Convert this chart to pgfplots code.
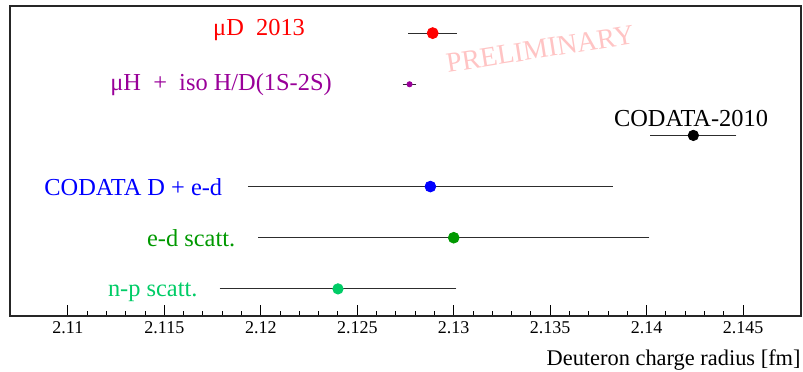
\documentclass[border=0pt]{standalone}
\usepackage{pgfplots}
\pgfplotsset{compat=1.18}
\usepackage{fontspec}
\setmainfont{Liberation Serif}
\definecolor{cRed}{RGB}{255,0,0}
\definecolor{cPurple}{RGB}{153,0,153}
\definecolor{cBlue}{RGB}{0,0,255}
\definecolor{cGreen}{RGB}{0,153,0}
\definecolor{cSpring}{RGB}{0,204,102}
\definecolor{cPink}{RGB}{255,196,196}
\definecolor{cBar}{RGB}{45,45,45}
\begin{document}
\begin{tikzpicture}
\begin{axis}[
  scale only axis, width=395.5pt, height=155pt,
  xmin=2.107, xmax=2.148, ymin=0.47, ymax=6.53,
  axis line style={line width=0.65pt, black!85},
  xtick={2.11,2.115,2.12,2.125,2.13,2.135,2.14,2.145},
  minor x tick num=4,
  xtick pos=bottom, ytick=\empty,
  tick align=inside,
  major tick length=5.5pt, minor tick length=2.5pt,
  tick style={line width=0.5pt, black},
  /pgf/number format/assume math mode=true,
  /pgf/number format/.cd, fixed, precision=3, /pgfplots/.cd,
  xticklabel style={font=\fontsize{9}{10}\selectfont, anchor=base, yshift=-9pt},
  xlabel={Deuteron charge radius [fm]},
  xlabel style={at={(rel axis cs:1,0)}, anchor=base east, yshift=-25pt, inner xsep=0pt, font=\fontsize{11.2}{13}\selectfont},
  clip=false,
  error bars/error bar style={cBar, line width=0.6pt},
  error bars/error mark options={cBar, mark size=1.3pt, line width=0.6pt},
]
\node[text=cPink, rotate=9, font=\fontsize{14}{16}\selectfont] at (axis cs:2.13448,5.69) {PRELIMINARY};

\addplot[only marks, mark=*, mark size=2.75pt, color=cRed,
  error bars/.cd, x dir=both, x explicit] coordinates {(2.12891,6) +- (0.00112,0)};
\addplot[only marks, mark=*, mark size=1.3pt, color=cPurple,
  error bars/.cd, x dir=both, x explicit] coordinates {(2.12771,5) +- (0.00022,0)};
\addplot[only marks, mark=*, mark size=2.6pt, color=black,
  error bars/.cd, x dir=both, x explicit] coordinates {(2.14242,4) +- (0.0021,0)};
\addplot[only marks, mark=*, mark size=2.7pt, color=cBlue,
  error bars/.cd, x dir=both, x explicit] coordinates {(2.12879,3) +- (0.00932,0)};
\addplot[only marks, mark=*, mark size=2.7pt, color=cGreen,
  error bars/.cd, x dir=both, x explicit] coordinates {(2.130,2) +- (0.010,0)};
\addplot[only marks, mark=*, mark size=2.6pt, color=cSpring,
  error bars/.cd, x dir=both, x explicit] coordinates {(2.124,1) +- (0.006,0)};

\begin{scope}[every node/.style={font=\fontsize{12.2}{14}\selectfont, anchor=base, inner sep=0pt}]
\node[text=cRed] at (axis cs:2.11991,5.96) {μD\ \ 2013};
\node[text=cPurple] at (axis cs:2.11794,4.88) {μH\ \ +\ \ iso H/D(1S-2S)};
\node[text=black] at (axis cs:2.1423,4.17) {CODATA-2010};
\node[text=cBlue] at (axis cs:2.11339,2.82) {CODATA D + e-d};
\node[text=cGreen] at (axis cs:2.11639,1.83) {e-d scatt.};
\node[text=cSpring] at (axis cs:2.1144,0.86) {n-p scatt.};
\end{scope}

\coordinate (sw) at (rel axis cs:0,0);
\coordinate (ne) at (rel axis cs:1,1);
\end{axis}
\pgfresetboundingbox
\path ([xshift=-5pt,yshift=-28pt]sw) rectangle ([xshift=1pt,yshift=3pt]ne);
\end{tikzpicture}
\end{document}
